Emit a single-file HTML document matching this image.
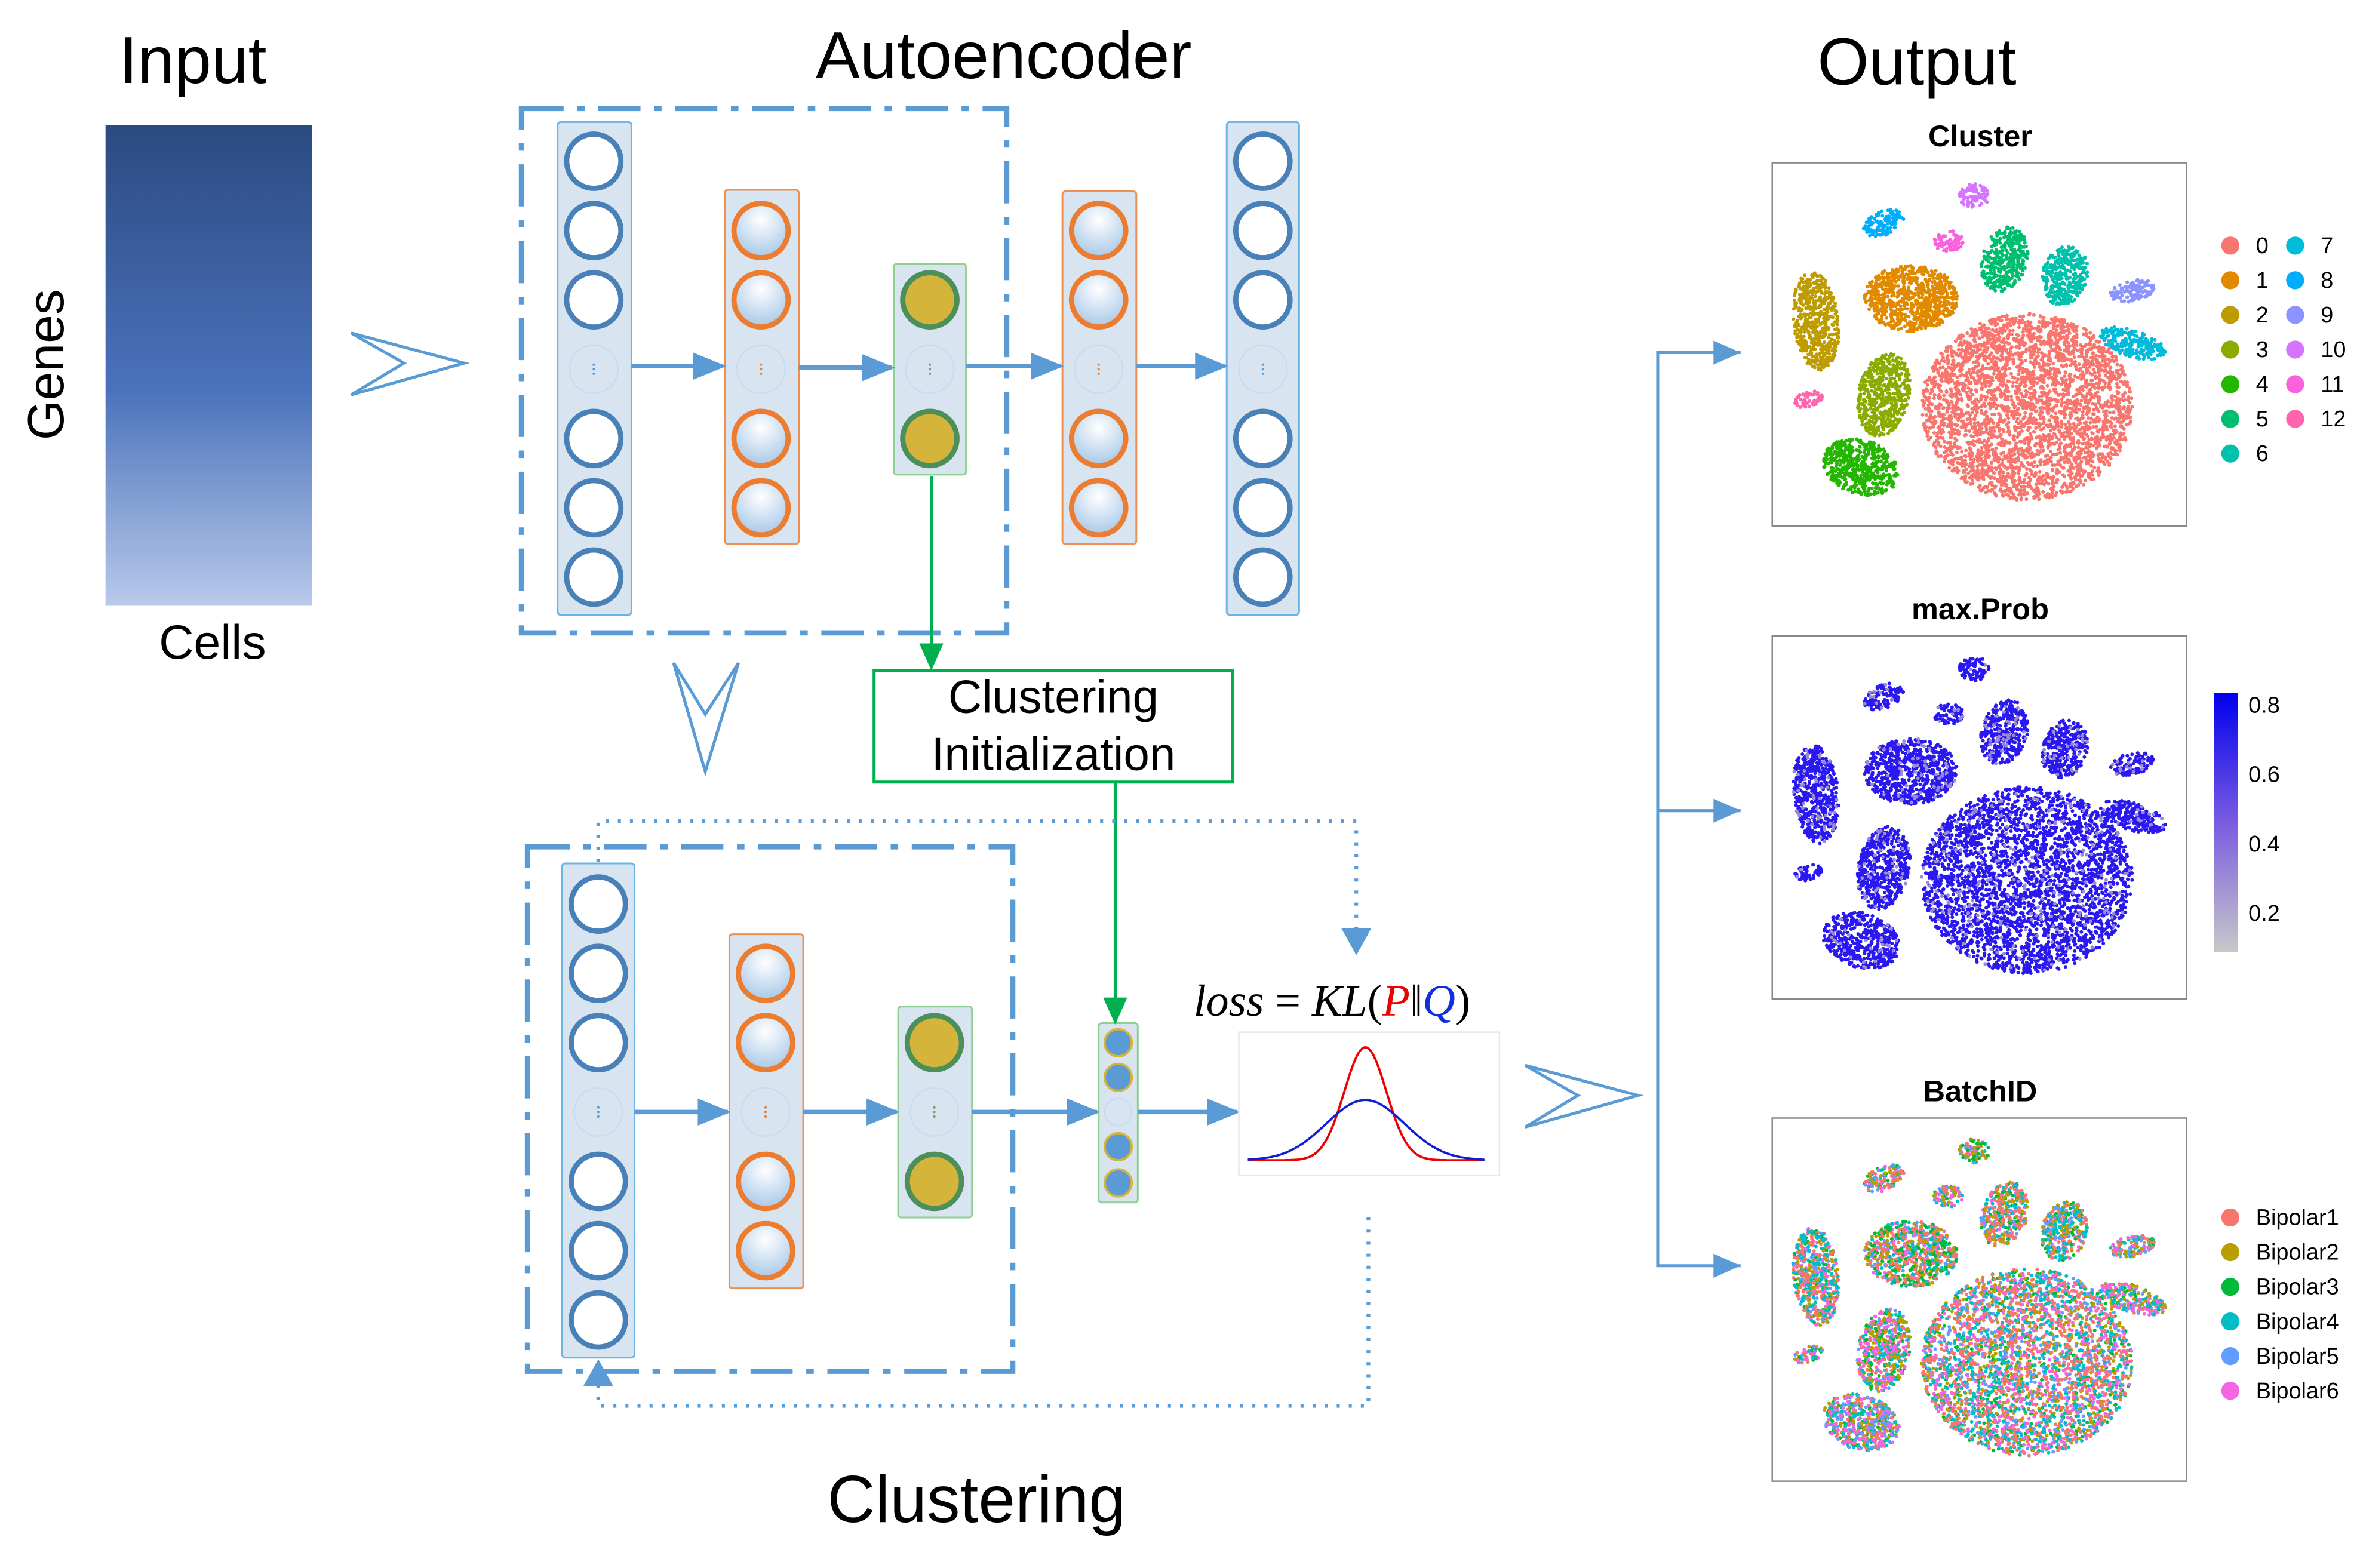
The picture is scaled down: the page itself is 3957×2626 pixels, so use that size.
<!DOCTYPE html>
<html><head><meta charset="utf-8">
<style>
html,body{margin:0;padding:0;background:#fff;}
svg{display:block;}
text{font-family:"Liberation Sans",sans-serif;}
</style></head>
<body>
<svg id="s" xmlns="http://www.w3.org/2000/svg" width="3957" height="2626" viewBox="0 0 1568 1040.6">
<defs>
<linearGradient id="inp" x1="0" y1="0" x2="0" y2="1">
<stop offset="0" stop-color="#2b4a80"/><stop offset="0.55" stop-color="#4a72bc"/><stop offset="1" stop-color="#b9c9ea"/>
</linearGradient>
<radialGradient id="cg" cx="0.5" cy="0.3" r="0.7">
<stop offset="0" stop-color="#ffffff"/><stop offset="1" stop-color="#a8c8e8"/>
</radialGradient>
<linearGradient id="cb" x1="0" y1="0" x2="0" y2="1">
<stop offset="0" stop-color="#0000ee"/><stop offset="0.5" stop-color="#7a5ce0"/><stop offset="1" stop-color="#c8c8c8"/>
</linearGradient>
<marker id="abig" markerWidth="22" markerHeight="18" refX="20" refY="9" orient="auto" markerUnits="userSpaceOnUse"><path d="M0,0 L22,9 L0,18 z" fill="#5b9bd5"/></marker>
<marker id="ag" markerWidth="18" markerHeight="16" refX="16" refY="8" orient="auto" markerUnits="userSpaceOnUse"><path d="M0,0 L18,8 L0,16 z" fill="#00b050"/></marker>
</defs>

<text x="128" y="55" font-size="44" text-anchor="middle">Input</text>
<rect x="70" y="83" width="137" height="319" fill="url(#inp)"/>
<text x="42" y="242" font-size="34" text-anchor="middle" transform="rotate(-90 42 242)">Genes</text>
<text x="141" y="437" font-size="32" text-anchor="middle">Cells</text>
<path d="M233,221 L308,241 L233,262 L268,241 Z" fill="none" stroke="#5b9bd5" stroke-width="2"/>

<text x="666" y="52" font-size="44" text-anchor="middle">Autoencoder</text>
<rect x="346" y="72" width="322" height="348" fill="none" stroke="#5b9bd5" stroke-width="3.5" stroke-dasharray="28,9,5,9"/>
<g id="gtop"></g>
<g id="gbot"></g>
<rect x="350" y="562" width="322" height="348" fill="none" stroke="#5b9bd5" stroke-width="3.5" stroke-dasharray="28,9,5,9"/>
<text x="648" y="1010" font-size="44" text-anchor="middle">Clustering</text>

<line x1="618" y1="316" x2="618" y2="443" stroke="#00b050" stroke-width="2" marker-end="url(#ag)"/>
<rect x="580" y="445" width="238" height="74" fill="#fff" stroke="#00b050" stroke-width="2"/>
<text x="699" y="473" font-size="31" text-anchor="middle">Clustering</text>
<text x="699" y="511" font-size="31" text-anchor="middle">Initialization</text>
<line x1="740" y1="519" x2="740" y2="678" stroke="#00b050" stroke-width="2" marker-end="url(#ag)"/>
<path d="M447,440 L468,512 L490,440 L468,474 Z" fill="none" stroke="#5b9bd5" stroke-width="2"/>

<path d="M397,572 L397,545 L900,545 L900,620" fill="none" stroke="#5b9bd5" stroke-width="2.5" stroke-dasharray="2,6"/>
<path d="M890,616 L910,616 L900,634 Z" fill="#5b9bd5"/>
<path d="M908,808 L908,933 L397,933 L397,918" fill="none" stroke="#5b9bd5" stroke-width="2.5" stroke-dasharray="2,6"/>
<path d="M387,920 L407,920 L397,902 Z" fill="#5b9bd5"/>

<text x="792" y="674" font-size="30" style="font-family:'Liberation Serif',serif" font-style="italic">loss <tspan font-style="normal">=</tspan> KL<tspan font-style="normal">(</tspan><tspan fill="#ee0000">P</tspan><tspan font-style="normal">‖</tspan><tspan fill="#1030e0">Q</tspan><tspan font-style="normal">)</tspan></text>
<rect x="822" y="685" width="173" height="95" fill="#fff" stroke="#e8e8e8" stroke-width="1"/>
<path id="rc" fill="none" stroke="#ee0000" stroke-width="1.5"/>
<path id="bc" fill="none" stroke="#1020d0" stroke-width="1.5"/>
<path d="M1012,707 L1087,727 L1012,748 L1047,727 Z" fill="none" stroke="#5b9bd5" stroke-width="2"/>

<text x="1272" y="56" font-size="44" text-anchor="middle">Output</text>
<path d="M1155,234 L1100,234 L1100,840 L1155,840 M1100,538 L1155,538" fill="none" stroke="#5b9bd5" stroke-width="2"/>
<path d="M1137,226 L1155,234 L1137,242 Z M1137,530 L1155,538 L1137,546 Z M1137,832 L1155,840 L1137,848 Z" fill="#5b9bd5"/>

<text x="1314" y="97" font-size="20" font-weight="bold" text-anchor="middle">Cluster</text>
<text x="1314" y="411" font-size="20" font-weight="bold" text-anchor="middle">max.Prob</text>
<text x="1314" y="731" font-size="20" font-weight="bold" text-anchor="middle">BatchID</text>
<rect x="1176" y="108" width="275" height="241" fill="#fff" stroke="#888" stroke-width="1"/>
<rect x="1176" y="422" width="275" height="241" fill="#fff" stroke="#888" stroke-width="1"/>
<rect x="1176" y="742" width="275" height="241" fill="#fff" stroke="#888" stroke-width="1"/>
<g id="p1"></g><g id="p2"></g><g id="p3"></g>
<g id="leg" font-size="15"></g>
<rect x="1469" y="460" width="16" height="172" fill="url(#cb)"/>
<g font-size="15">
<text x="1492" y="473">0.8</text><text x="1492" y="519">0.6</text><text x="1492" y="565">0.4</text><text x="1492" y="611">0.2</text>
</g>
</svg>
<script>
(function(){
var NS="http://www.w3.org/2000/svg";
function el(p,t,a){var e=document.createElementNS(NS,t);for(var k in a)e.setAttribute(k,a[k]);p.appendChild(e);return e;}
var gt=document.getElementById('gtop'),gb=document.getElementById('gbot');
function col(g,x1,y1,x2,y2,stroke,fill){el(g,'rect',{x:x1,y:y1,width:x2-x1,height:y2-y1,fill:fill,stroke:stroke,'stroke-width':1.2,rx:2});}
function circ(g,cx,cy,r,st,fi,w){el(g,'circle',{cx:cx,cy:cy,r:r,fill:fi,stroke:st,'stroke-width':w});}
function dots(g,cx,cy,r,c){circ(g,cx,cy,r,'#c8dcef','none',1);
 for(var i=-1;i<=1;i++)el(g,'circle',{cx:cx,cy:cy+i*3,r:0.8,fill:c});}
function blueCol(g,x1,y1,x2,y2,cx,ys){col(g,x1,y1,x2,y2,'#6ab4e6','#d8e5f1');
 ys.forEach(function(y,i){if(i==3)dots(g,cx,y,16,'#5b9bd5');else circ(g,cx,y,18,'#4a80b8','#fff',3.5);});}
function oraCol(g,x1,y1,x2,y2,cx,ys){col(g,x1,y1,x2,y2,'#f09050','#d8e5f1');
 ys.forEach(function(y,i){if(i==2)dots(g,cx,y,16,'#e87e30');else circ(g,cx,y,18,'#ec7c30','url(#cg)',3.5);});}
function grnCol(g,x1,y1,x2,y2,cx,ys){col(g,x1,y1,x2,y2,'#8fd18f','#d8e5f1');
 ys.forEach(function(y,i){if(i==1)dots(g,cx,y,16,'#6aa06a');else circ(g,cx,y,18,'#4d8f5a','#d4b43a',3.5);});}
function arr(g,x1,y,x2){el(g,'line',{x1:x1,y1:y,x2:x2,y2:y,stroke:'#5b9bd5','stroke-width':3,'marker-end':'url(#abig)'});}
blueCol(gt,370,81,419,408,394,[107,153,199,245,291,337,383]);
oraCol(gt,481,126,530,361,505,[153,199,245,291,337]);
grnCol(gt,593,175,641,315,617,[199,245,291]);
oraCol(gt,705,127,754,361,729,[153,199,245,291,337]);
blueCol(gt,814,81,862,408,838,[107,153,199,245,291,337,383]);
arr(gt,419,243,480);arr(gt,530,244,592);arr(gt,641,243,704);arr(gt,754,243,813);
blueCol(gb,373,573,421,901,397,[600,646,692,738,784,830,876]);
oraCol(gb,484,620,533,855,508,[646,692,738,784,830]);
grnCol(gb,596,668,645,808,620,[692,738,784]);
col(gb,729,679,755,798,'#8fd18f','#d8e5f1');
[692,715,738,761,785].forEach(function(y,i){if(i==2)circ(gb,742,y,9,'#c8dcef','none',1);else circ(gb,742,y,9,'#d4b43a','#5b9bd5',1.5);});
arr(gb,421,738,483);arr(gb,533,738,595);arr(gb,645,738,728);arr(gb,755,738,821);
var r='',b='';for(var x=828;x<=985;x+=1){var t=(x-906)/14,t2=(x-906)/26;
var yr=770-75*Math.exp(-t*t/2),yb=770-40*Math.exp(-t2*t2/2);r+=(x==828?'M':'L')+x+','+yr.toFixed(1);b+=(x==828?'M':'L')+x+','+yb.toFixed(1);}
document.getElementById('rc').setAttribute('d',r);document.getElementById('bc').setAttribute('d',b);
var seed=7;function rnd(){seed=(seed*16807)%2147483647;return (seed-1)/2147483646;}
var cols=['#F8766D','#E18A00','#BE9C00','#8CAB00','#24B700','#00BE70','#00C1AB','#00BBDA','#00ACFC','#8B93FF','#D575FE','#F962DD','#FF65AC'];
var cl=[[169,162,70,62,0],[92,90,31,22,0],[29,105,15,33,-0.1],[74,154,17,28,0.2],[59,202,26,18,0.3],[154,64,15,22,0.3],[194,75,15,20,0.3],[239,120,23,9,0.3],[74,40,14,8,-0.4],[239,85,15,7,-0.2],[134,22,10,8,0],[117,52,10,7,0],[24,157,10,5,-0.3]];
var bcol=['#F8766D','#B79F00','#00BA38','#00BFC4','#619CFF','#F564E3'];
function scatter(id,oy,mode){var g=document.getElementById(id);
 cl.forEach(function(c,k){var n=Math.round(c[2]*c[3]*(k==0?0.75:1.1));
  var parts={};
  for(var i=0;i<n;i++){var a=rnd()*6.283,rr=Math.sqrt(rnd());var dx=Math.cos(a)*rr*c[2],dy=Math.sin(a)*rr*c[3];
   var ca=Math.cos(c[4]),sa=Math.sin(c[4]);var x=1176+c[0]+dx*ca-dy*sa,y=oy+c[1]+dx*sa+dy*ca;
   var color;if(mode==0)color=cols[k];else if(mode==1)color=rnd()<0.08?'#9a88d8':'#2a18f0';else color=bcol[Math.floor(rnd()*6)];
   (parts[color]=parts[color]||[]).push('M'+x.toFixed(1)+','+y.toFixed(1)+'h0.01');}
  for(var cc in parts)el(g,'path',{d:parts[cc].join(''),stroke:cc,'stroke-width':2.4,'stroke-linecap':'round',fill:'none'});
 });}
scatter('p1',108,0);scatter('p2',422,1);scatter('p3',742,2);
var leg=document.getElementById('leg');
for(var i=0;i<13;i++){var x=i<7?1480:1523,y=163+23*(i<7?i:i-7);
 el(leg,'circle',{cx:x,cy:y,r:6,fill:cols[i]});var tt=el(leg,'text',{x:x+17,y:y+5});tt.textContent=String(i);}
var bn=['Bipolar1','Bipolar2','Bipolar3','Bipolar4','Bipolar5','Bipolar6'];
for(var i=0;i<6;i++){var y=808+23*i;el(leg,'circle',{cx:1480,cy:y,r:6,fill:bcol[i]});var tt=el(leg,'text',{x:1497,y:y+5});tt.textContent=bn[i];}
})();
</script>
</body></html>
